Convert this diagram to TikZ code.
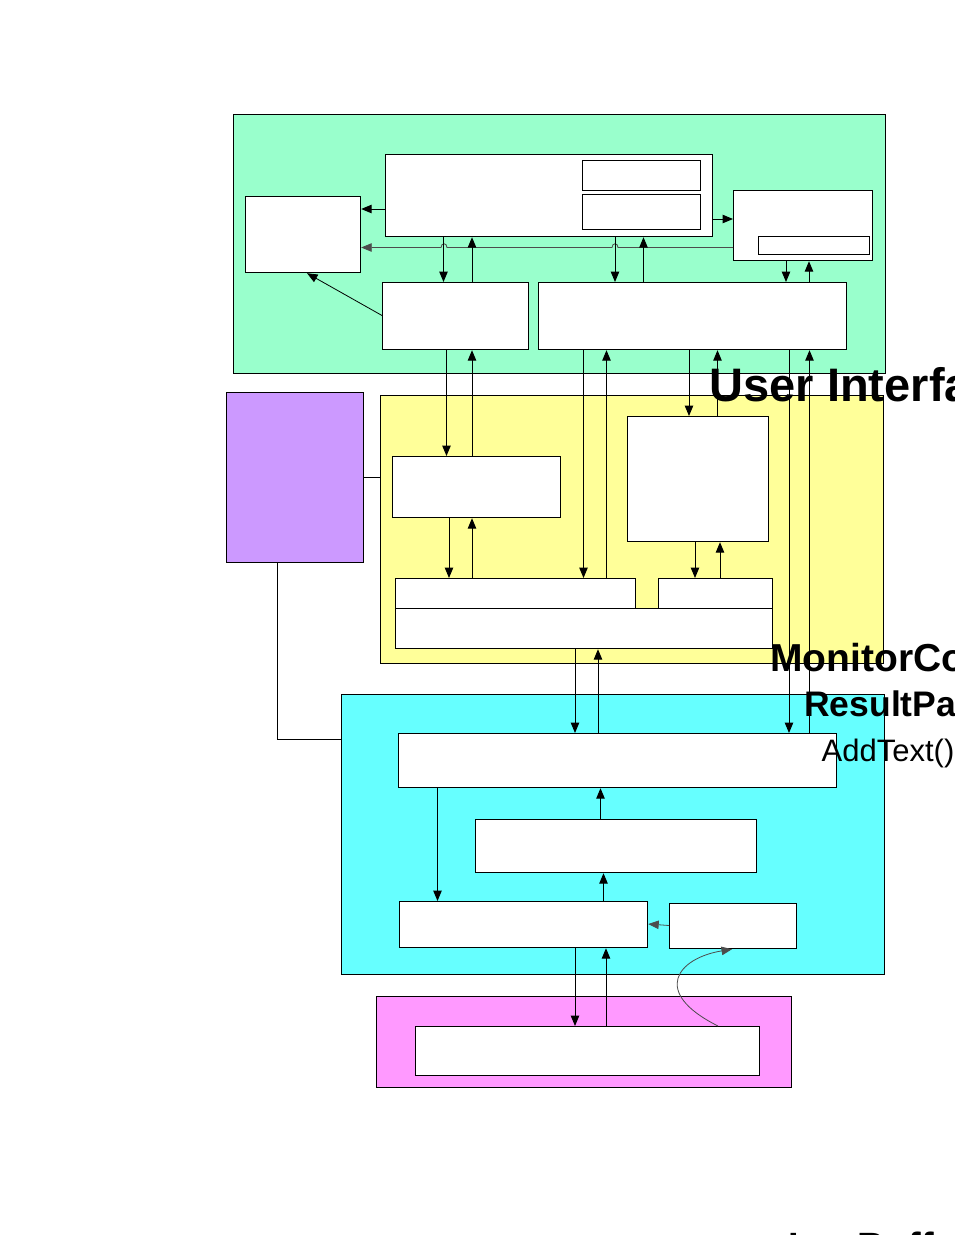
\documentclass[tikz,border=0pt]{standalone}
\usepackage{fontspec}
\setmainfont{Liberation Sans}
\usepackage{tikz}
\usetikzlibrary{arrows.meta,positioning,calc}
\definecolor{uicolor}{HTML}{99FFCC}
\definecolor{moncolor}{HTML}{FFFF99}
\definecolor{cfgcolor}{HTML}{CC99FF}
\definecolor{rescolor}{HTML}{66FFFF}
\definecolor{logcolor}{HTML}{FF99FF}

\begin{document}
\begin{tikzpicture}[x=1pt, y=-1pt,
  grp/.style={draw, line width=1.2pt, inner sep=0pt, anchor=north west},
  blk/.style={grp, fill=white},
  arr/.style={-{Triangle[length=10.5pt, width=8.5pt]}, line width=1pt},
  link/.style={line width=1pt},
  soft/.style={-{Triangle[length=10.5pt, width=8.5pt]}, line width=0.8pt, black!70},
  lbl/.style={inner sep=0pt, anchor=base west},
]
  \useasboundingbox (0,0) rectangle (954,1235);

  % user interface layer
  \node[grp, fill=uicolor, minimum width=652pt, minimum height=259pt] (uiBox) at (233,114) {};
  \node[blk, minimum width=115pt, minimum height=76pt] (viewL) at (245,196) {};
  \node[blk, minimum width=327pt, minimum height=82pt] (mainWin) at (385,154) {};
  \node[blk, minimum width=118pt, minimum height=30pt] (subTop) at (582,160) {};
  \node[blk, minimum width=118pt, minimum height=35pt] (subBot) at (582,194) {};
  \node[blk, minimum width=139pt, minimum height=70pt] (dlgR) at (733,190) {};
  \node[blk, minimum width=111pt, minimum height=18pt] (dlgBar) at (758,236) {};
  \node[blk, minimum width=146pt, minimum height=67pt] (ctlL) at (382,282) {};
  \node[blk, minimum width=308pt, minimum height=67pt] (ctlR) at (538,282) {};

  % monitor layer
  \node[grp, fill=cfgcolor, minimum width=137pt, minimum height=170pt] (cfgBox) at (226,392) {};
  \node[grp, fill=moncolor, minimum width=503pt, minimum height=268pt] (monBox) at (380,395) {};
  \node[blk, minimum width=168pt, minimum height=61pt] (monL) at (392,456) {};
  \node[blk, minimum width=141pt, minimum height=125pt] (monR) at (627,416) {};
  \node[blk, minimum width=240pt, minimum height=30pt] (bufTL) at (395,578) {};
  \node[blk, minimum width=114pt, minimum height=30pt] (bufTR) at (658,578) {};
  \node[blk, minimum width=377pt, minimum height=40pt] (bufB) at (395,608) {};

  % result layer
  \node[grp, fill=rescolor, minimum width=543pt, minimum height=280pt] (resBox) at (340.5,694) {};
  \node[blk, minimum width=438pt, minimum height=54pt] (resTop) at (398,733) {};
  \node[blk, minimum width=281pt, minimum height=53pt] (resMid) at (475,819) {};
  \node[blk, minimum width=248pt, minimum height=46pt] (resBot) at (399,901) {};
  \node[blk, minimum width=127pt, minimum height=45pt] (resSide) at (669,903) {};

  % log layer
  \node[grp, fill=logcolor, minimum width=415pt, minimum height=91pt] (logBox) at (376,996) {};
  \node[blk, minimum width=344pt, minimum height=49pt] (logIn) at (415,1026) {};

  % connectors, user interface
  \draw[arr] (mainWin.west |- 0,209) -- (viewL.east |- 0,209);
  \draw[arr] (mainWin.east |- 0,219) -- (dlgR.west |- 0,219);
  \draw[soft] (dlgR.west |- 0,247.5) -- (618,247.5) .. controls (618,242.5) and (612,242.5) .. (612,247.5)
    -- (447,247.5) .. controls (447,242.5) and (441,242.5) .. (441,247.5) -- (viewL.east |- 0,247.5);
  \draw[arr] (mainWin.south -| 443.5,0) -- (ctlL.north -| 443.5,0);
  \draw[arr] (ctlL.north -| 472,0) -- (mainWin.south -| 472,0);
  \draw[arr] (mainWin.south -| 615,0) -- (ctlR.north -| 615,0);
  \draw[arr] (ctlR.north -| 643.5,0) -- (mainWin.south -| 643.5,0);
  \draw[arr] (dlgR.south -| 786,0) -- (ctlR.north -| 786,0);
  \draw[arr] (ctlR.north -| 809,0) -- (dlgR.south -| 809,0);
  \draw[arr, line width=0.8pt] (ctlL.west |- 0,315.5) -- (viewL.south -| 307,0);

  % connectors, monitor
  \draw[link] (cfgBox.east |- 0,477) -- (monBox.west |- 0,477);
  \draw[link] (cfgBox.south -| 277,0) |- (resBox.west |- 0,739);
  \draw[arr] (ctlL.south -| 446.5,0) -- (monL.north -| 446.5,0);
  \draw[arr] (monL.north -| 472,0) -- (ctlL.south -| 472,0);
  \draw[arr] (monL.south -| 449,0) -- (bufTL.north -| 449,0);
  \draw[arr] (bufTL.north -| 472,0) -- (monL.south -| 472,0);
  \draw[arr] (ctlR.south -| 583.5,0) -- (bufTL.north -| 583.5,0);
  \draw[arr] (bufTL.north -| 606.5,0) -- (ctlR.south -| 606.5,0);
  \draw[arr] (ctlR.south -| 689,0) -- (monR.north -| 689,0);
  \draw[arr] (monR.north -| 717.5,0) -- (ctlR.south -| 717.5,0);
  \draw[arr] (monR.south -| 695,0) -- (bufTR.north -| 695,0);
  \draw[arr] (bufTR.north -| 720,0) -- (monR.south -| 720,0);
  \draw[arr] (ctlR.south -| 789,0) -- (resTop.north -| 789,0);
  \draw[arr] (resTop.north -| 809.5,0) -- (ctlR.south -| 809.5,0);

  % connectors, result and log
  \draw[arr] (bufB.south -| 575,0) -- (resTop.north -| 575,0);
  \draw[arr] (resTop.north -| 598,0) -- (bufB.south -| 598,0);
  \draw[arr] (resTop.south -| 437.5,0) -- (resBot.north -| 437.5,0);
  \draw[arr] (resMid.north -| 600.5,0) -- (resTop.south -| 600.5,0);
  \draw[arr] (resBot.north -| 603.5,0) -- (resMid.south -| 603.5,0);
  \draw[soft] (resSide.west |- 0,925.5) -- (resBot.east |- 0,924);
  \draw[arr] (resBot.south -| 575,0) -- (logIn.north -| 575,0);
  \draw[arr] (logIn.north -| 606,0) -- (resBot.south -| 606,0);
  \draw[soft] (logIn.north -| 718,0) .. controls (650,992) and (678,958) .. (resSide.south -| 732,0);

  % labels
  \node[lbl, font=\fontsize{47}{47}\selectfont\bfseries] (lblUI) at (709.5,401.5) {User Interfa};
  \node[lbl, font=\fontsize{39}{39}\selectfont\bfseries] (lblMon) at (770,671) {MonitorCo};
  \node[lbl, font=\fontsize{35.5}{35.5}\selectfont\bfseries] (lblRes) at (804,716.5) {ResultPa};
  \node[lbl, font=\fontsize{31}{31}\selectfont] (lblAdd) at (821.5,761.5) {AddText()};
  \node[lbl, font=\fontsize{38}{38}\selectfont\bfseries] (lblLog) at (788,1259) {LogBuff};
\end{tikzpicture}
\end{document}
